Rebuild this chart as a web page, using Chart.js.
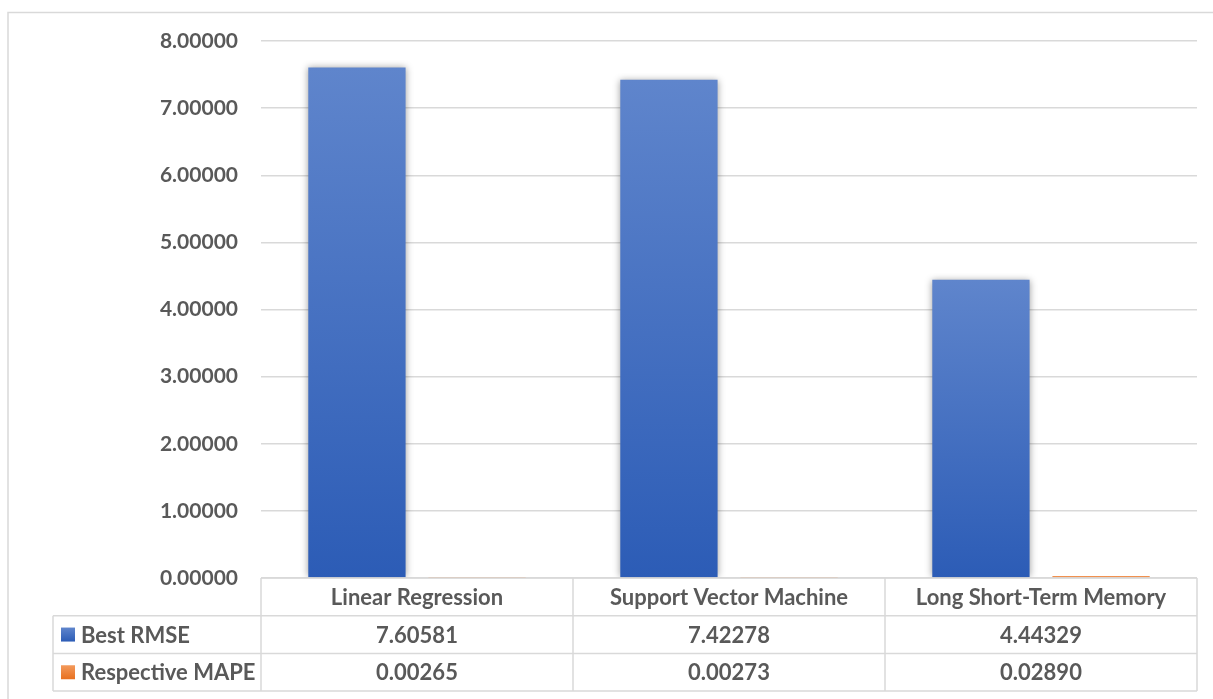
<!DOCTYPE html>
<html>
<head>
<meta charset="utf-8">
<title>Best RMSE and Respective MAPE by Model</title>
<script src="https://cdn.jsdelivr.net/npm/chart.js@4.4.1/dist/chart.umd.min.js"></script>
<style>
  html, body { margin: 0; padding: 0; background: #ffffff; overflow: hidden; }
  #wrap { position: relative; width: 1213px; height: 699px; }
</style>
</head>
<body>
<div id="wrap"><canvas id="chart" width="1213" height="699"></canvas></div>
<script>
// Models compared
const categories = ['Linear Regression', 'Support Vector Machine', 'Long Short-Term Memory'];
// Series names
const seriesNames = ['Best RMSE', 'Respective MAPE'];
// Series values
const bestRmse = [7.60581, 7.42278, 4.44329];
const respectiveMape = [0.00265, 0.00273, 0.02890];
// Value axis ticks
const yTicks = [0, 1, 2, 3, 4, 5, 6, 7, 8];

const FONT = 'Lato, "Open Sans", sans-serif';
const TEXT = '#595959';
const LINE = '#d9d9d9';

// Vertical gradient stops per series: lighter at the top, deeper at the base
const palettes = [
  ['#5f85cc', '#2c5cb6'],
  ['#f39a5c', '#e8701f']
];

function barGradient(ctx, index, top, bottom) {
  const g = ctx.createLinearGradient(0, top, 0, bottom);
  g.addColorStop(0, palettes[index][0]);
  g.addColorStop(1, palettes[index][1]);
  return g;
}

function barFill(context) {
  const chart = context.chart;
  const y = chart.scales.y;
  if (!chart.chartArea || !y || context.raw === undefined) return palettes[context.datasetIndex][1];
  const top = y.getPixelForValue(context.raw);
  const bottom = y.getPixelForValue(0);
  return barGradient(chart.ctx, context.datasetIndex, Math.min(top, bottom - 1), bottom);
}

// Frame around the whole chart
const framePlugin = {
  id: 'frame',
  beforeDraw(chart) {
    const ctx = chart.ctx;
    ctx.save();
    ctx.strokeStyle = LINE;
    ctx.lineWidth = 1.5;
    ctx.strokeRect(8, 12.5, 1400, 900);
    ctx.restore();
  }
};

// Soft shadow behind the RMSE bars
const shadowPlugin = {
  id: 'barShadow',
  beforeDatasetDraw(chart, args) {
    const ctx = chart.ctx;
    ctx.save();
    if (args.index === 0) {
      ctx.shadowColor = 'rgba(0,0,0,0.38)';
      ctx.shadowBlur = 7;
      ctx.shadowOffsetX = 0;
      ctx.shadowOffsetY = 0;
    }
  },
  afterDatasetDraw(chart) {
    chart.ctx.restore();
  }
};

// Data table under the plot: category header row plus one row per series
const tablePlugin = {
  id: 'dataTable',
  afterDraw(chart) {
    const ctx = chart.ctx;
    const area = chart.chartArea;
    const x = chart.scales.x;
    const left = area.left, right = area.right;
    const colW = (right - left) / categories.length;
    const rowTop = area.bottom;
    const rowH = 37.7;
    const keyLeft = 53;
    const rows = [bestRmse, respectiveMape];

    ctx.save();
    ctx.strokeStyle = LINE;
    ctx.lineWidth = 1.5;
    ctx.beginPath();
    // horizontal rules
    ctx.moveTo(left, rowTop); ctx.lineTo(right, rowTop);
    for (let r = 1; r <= rows.length + 1; r++) {
      const yy = rowTop + rowH * r;
      ctx.moveTo(keyLeft, yy); ctx.lineTo(right, yy);
    }
    // vertical rules
    for (let c = 0; c <= categories.length; c++) {
      const xx = left + colW * c;
      ctx.moveTo(xx, rowTop); ctx.lineTo(xx, rowTop + rowH * (rows.length + 1));
    }
    ctx.moveTo(keyLeft, rowTop + rowH); ctx.lineTo(keyLeft, rowTop + rowH * (rows.length + 1));
    ctx.stroke();

    ctx.fillStyle = TEXT;
    ctx.font = 'bold 22px ' + FONT;
    ctx.textAlign = 'center';
    ctx.textBaseline = 'middle';
    categories.forEach((name, i) => {
      ctx.fillText(name, x.getPixelForValue(i), rowTop + rowH * 0.5 + 1);
    });
    rows.forEach((vals, r) => {
      const cy = rowTop + rowH * (r + 1.5) + 1;
      vals.forEach((v, i) => {
        ctx.fillText(v.toFixed(5), x.getPixelForValue(i), cy);
      });
    });
    // series keys
    ctx.textAlign = 'left';
    seriesNames.forEach((name, r) => {
      const cy = rowTop + rowH * (r + 1.5);
      ctx.fillStyle = barGradient(ctx, r, cy - 7, cy + 7);
      ctx.fillRect(61, cy - 7, 14, 14);
      ctx.fillStyle = TEXT;
      ctx.fillText(name, 81, cy + 1);
    });
    ctx.restore();
  }
};

new Chart(document.getElementById('chart'), {
  type: 'bar',
  data: {
    labels: categories,
    datasets: [
      { label: seriesNames[0], data: bestRmse, backgroundColor: barFill, borderWidth: 0 },
      { label: seriesNames[1], data: respectiveMape, backgroundColor: barFill, borderWidth: 0 }
    ]
  },
  options: {
    responsive: false,
    animation: false,
    devicePixelRatio: 1,
    categoryPercentage: 0.77,
    barPercentage: 0.81,
    layout: { padding: { left: 0, right: 16, top: 41, bottom: 0 } },
    plugins: {
      legend: { display: false },
      tooltip: { enabled: false },
      title: { display: false }
    },
    scales: {
      x: {
        grid: { display: false },
        border: { display: false },
        ticks: { display: false },
        afterFit(scale) { scale.height = 121; }
      },
      y: {
        min: 0,
        max: 8,
        afterBuildTicks(scale) { scale.ticks = yTicks.map(v => ({ value: v })); },
        afterFit(scale) { scale.width = 261; },
        grid: { color: LINE, lineWidth: 1.5, drawTicks: false },
        border: { display: false },
        ticks: {
          padding: 23,
          color: TEXT,
          font: { family: FONT, size: 21, weight: 'bold' },
          callback: v => Number(v).toFixed(5)
        }
      }
    }
  },
  plugins: [framePlugin, shadowPlugin, tablePlugin]
});
</script>
</body>
</html>
